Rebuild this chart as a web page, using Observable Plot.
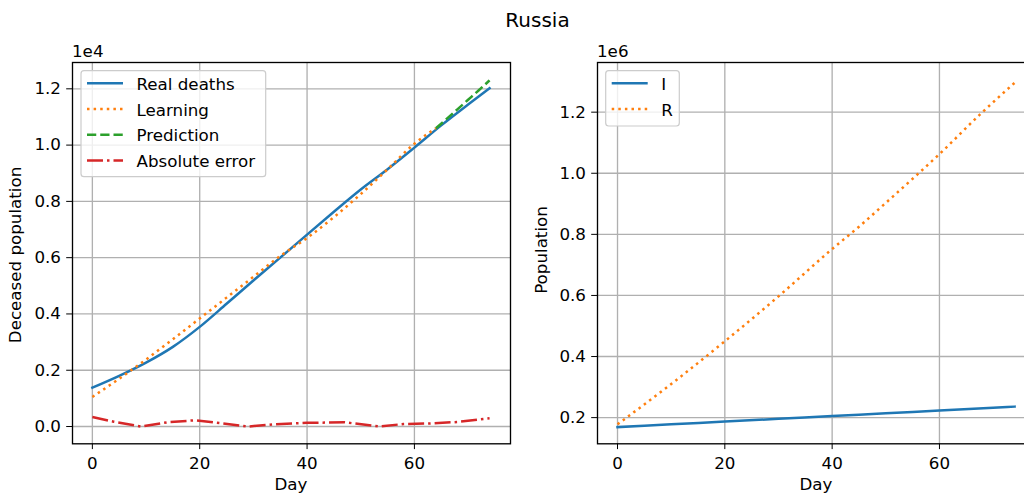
<!DOCTYPE html>
<html>
<head>
<meta charset="utf-8">
<script src="https://cdn.jsdelivr.net/npm/d3@7"></script>
<script src="https://cdn.jsdelivr.net/npm/@observablehq/plot@0.6"></script>
<style>
  html, body { margin: 0; padding: 0; background: #fff; }
  #fig { position: relative; width: 1024px; height: 494px; overflow: hidden; background: #fff; font-family: "DejaVu Sans", sans-serif; }
  .panel { position: absolute; top: 0; }
  #overlay { position: absolute; left: 0; top: 0; pointer-events: none; }
</style>
</head>
<body>
<div id="fig">
  <div id="left" class="panel" style="left:0px;width:520px;"></div>
  <div id="right" class="panel" style="left:520px;width:520px;"></div>
</div>
<script>
// ---------------- data ----------------
const title = "Russia";
const xTicks = [0, 20, 40, 60];

// left panel: deceased population
const realDays   = [0, 5, 10, 15, 20, 25, 30, 35, 40, 45, 50, 55, 60, 65, 70, 74];
const realDeaths = [1380, 1800, 2270, 2830, 3540, 4360, 5190, 6000, 6820, 7630, 8420, 9140, 9910, 10700, 11440, 12020];

const learningDays = [0, 5, 10, 15, 20, 25, 30, 35, 40, 45, 50, 55, 60, 64];
const learning     = [1050, 1700, 2380, 3100, 3840, 4580, 5320, 6060, 6700, 7440, 8260, 9140, 10050, 10600];

const predictionDays = [64, 66, 68, 70, 72, 74];
const prediction     = [10600, 10930, 11270, 11610, 11950, 12300];

const errorDays = [0, 4, 9, 14, 19, 24, 29, 34, 40, 47, 53.5, 58, 63, 68, 74];
const absError  = [340, 170, 0, 150, 220, 120, 0, 80, 130, 150, 0, 90, 110, 160, 290];

const leftYTicks = [0, 2000, 4000, 6000, 8000, 10000, 12000];
const leftLabels = ["Real deaths", "Learning", "Prediction", "Absolute error"];

// right panel: I and R populations
const iDays = [0, 10, 20, 30, 40, 50, 60, 70, 74];
const iVals = [169000, 178000, 187000, 196000, 205000, 214000, 223000, 232000, 236000];

const rDays = [0, 10, 20, 30, 40, 45, 50, 56, 60, 68, 74];
const rVals = [178000, 310000, 450000, 597000, 752000, 825000, 903000, 998000, 1063000, 1200000, 1296000];

const rightYTicks = [200000, 400000, 600000, 800000, 1000000, 1200000];
const rightLabels = ["I", "R"];

// ---------------- styles ----------------
const C = {blue: "#1f77b4", orange: "#ff7f0e", green: "#2ca02c", red: "#d62728"};
const LW = 2.5;
const DOT = "2.5,4.1";
const DASH = "9.25,4";
const DASHDOT = "16,4,2.5,4";
const FONT = "DejaVu Sans";
const FS = 16.7;

const zip = (xs, ys) => xs.map((x, i) => ({x, y: ys[i]}));

const common = {
  width: 520, height: 494,
  marginTop: 62, marginBottom: 50.7,
  style: {fontFamily: FONT, fontSize: FS + "px", background: "transparent", color: "#000", overflow: "visible"}
};

function gridMarks(yTicks) {
  return [
    Plot.ruleX(xTicks, {stroke: "#b0b0b0", strokeWidth: 1.33, strokeOpacity: 1}),
    Plot.ruleY(yTicks, {stroke: "#b0b0b0", strokeWidth: 1.33, strokeOpacity: 1})
  ];
}

const leftPlot = Plot.plot({
  ...common,
  marginLeft: 72, marginRight: 10,
  x: {domain: [-3.7, 77.9], ticks: xTicks, tickSize: 5.8, tickPadding: 8, label: null, tickFormat: d => String(d)},
  y: {domain: [-614, 12935], ticks: leftYTicks, tickSize: 5.8, tickPadding: 5.7, label: null, tickFormat: d => (d / 1e4).toFixed(1)},
  marks: [
    ...gridMarks(leftYTicks),
    Plot.line(zip(realDays, realDeaths), {x: "x", y: "y", stroke: C.blue, strokeWidth: LW, curve: "monotone-x", strokeLinecap: "square"}),
    Plot.line(zip(learningDays, learning), {x: "x", y: "y", stroke: C.orange, strokeWidth: LW, strokeDasharray: DOT, strokeLinecap: "butt", curve: "monotone-x"}),
    Plot.line(zip(predictionDays, prediction), {x: "x", y: "y", stroke: C.green, strokeWidth: LW, strokeDasharray: DASH, strokeLinecap: "butt", curve: "monotone-x"}),
    Plot.line(zip(errorDays, absError), {x: "x", y: "y", stroke: C.red, strokeWidth: LW, strokeDasharray: DASHDOT, strokeLinecap: "butt", curve: "linear"}),
    Plot.frame({stroke: "#000", strokeWidth: 1.33})
  ]
});
document.getElementById("left").appendChild(leftPlot);

const rightPlot = Plot.plot({
  ...common,
  marginLeft: 77, marginRight: 5,
  x: {domain: [-3.73, 77.9], ticks: xTicks, tickSize: 5.8, tickPadding: 8, label: null, tickFormat: d => String(d)},
  y: {domain: [114300, 1362600], ticks: rightYTicks, tickSize: 5.8, tickPadding: 5.7, label: null, tickFormat: d => (d / 1e6).toFixed(1)},
  marks: [
    ...gridMarks(rightYTicks),
    Plot.line(zip(iDays, iVals), {x: "x", y: "y", stroke: C.blue, strokeWidth: LW, curve: "monotone-x", strokeLinecap: "square"}),
    Plot.line(zip(rDays, rVals), {x: "x", y: "y", stroke: C.orange, strokeWidth: LW, strokeDasharray: DOT, strokeLinecap: "butt", curve: "monotone-x"}),
    Plot.frame({stroke: "#000", strokeWidth: 1.33})
  ]
});
document.getElementById("right").appendChild(rightPlot);

// ---------------- overlay texts & legends ----------------
const svg = d3.select("#fig").append("svg")
  .attr("id", "overlay").attr("width", 1024).attr("height", 494)
  .style("font-family", FONT).style("font-size", FS + "px");

svg.append("text").attr("x", 537.5).attr("y", 27.3).attr("text-anchor", "middle")
  .style("font-size", "20px").text(title);

svg.append("text").attr("x", 72).attr("y", 57).text("1e4");
svg.append("text").attr("x", 597).attr("y", 57).text("1e6");

svg.append("text").attr("x", 291).attr("y", 490).attr("text-anchor", "middle").text("Day");
svg.append("text").attr("x", 816).attr("y", 490).attr("text-anchor", "middle").text("Day");

svg.append("text").attr("transform", "translate(21,255) rotate(-90)").attr("text-anchor", "middle").text("Deceased population");
svg.append("text").attr("transform", "translate(547,250) rotate(-90)").attr("text-anchor", "middle").text("Population");

function legend(x0, y0, w, h, labels, styles) {
  const g = svg.append("g");
  g.append("rect").attr("x", x0).attr("y", y0).attr("width", w).attr("height", h)
    .attr("rx", 3).attr("fill", "rgba(255,255,255,0.8)").attr("stroke", "#cccccc").attr("stroke-width", 1.2);
  labels.forEach((lab, i) => {
    const cy = y0 + 12.6 + i * 25.7;
    const s = styles[i];
    g.append("line").attr("x1", x0 + 6).attr("x2", x0 + 42).attr("y1", cy).attr("y2", cy)
      .attr("stroke", s.color).attr("stroke-width", LW)
      .attr("stroke-dasharray", s.dash || null).attr("stroke-linecap", "butt");
    g.append("text").attr("x", x0 + 55.5).attr("y", cy + 6.5).text(lab);
  });
}
legend(81, 70.7, 184.7, 106, leftLabels, [
  {color: C.blue}, {color: C.orange, dash: DOT}, {color: C.green, dash: DASH}, {color: C.red, dash: DASHDOT}
]);
legend(605.7, 70.7, 73.6, 55.3, rightLabels, [
  {color: C.blue}, {color: C.orange, dash: DOT}
]);
</script>
</body>
</html>
